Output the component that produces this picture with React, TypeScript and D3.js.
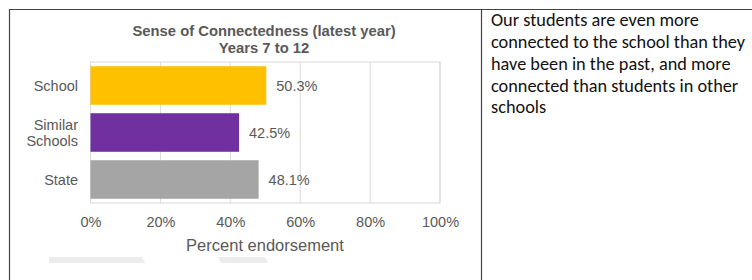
import React, { useEffect, useRef } from "react";
import { axisBottom, scaleBand, scaleLinear, select } from "d3";

const categories = ["School", "Similar Schools", "State"];
const values = [50.3, 42.5, 48.1];
const barColors = ["#FFC000", "#7030A0", "#A5A5A5"];
const tickValues = [0, 20, 40, 60, 80, 100];
const titleLines = ["Sense of Connectedness (latest year)", "Years 7 to 12"];
const commentLines = [
  "Our students are even more",
  "connected to the school than they",
  "have been in the past, and more",
  "connected than students in other",
  "schools",
];

export default function App() {
  const ref = useRef<SVGSVGElement>(null);

  useEffect(() => {
    const svg = select(ref.current);
    svg.selectAll("*").remove();

    const font = "'Liberation Sans', Arial, sans-serif";
    const textColor = "#595959";
    const plot = { left: 90.5, right: 440, top: 62, bottom: 203 };

    // table frame
    svg.append("line").attr("x1", 9).attr("x2", 752).attr("y1", 9.5).attr("y2", 9.5)
      .attr("stroke", "#444").attr("stroke-width", 1.2);
    svg.append("line").attr("x1", 9.5).attr("x2", 9.5).attr("y1", 9).attr("y2", 280)
      .attr("stroke", "#444").attr("stroke-width", 1.2);
    svg.append("line").attr("x1", 481.5).attr("x2", 481.5).attr("y1", 9).attr("y2", 280)
      .attr("stroke", "#444").attr("stroke-width", 1.2);

    const x = scaleLinear().domain([0, 100]).range([plot.left, plot.right]);
    const y = scaleBand<string>()
      .domain(categories)
      .range([plot.top, plot.bottom])
      .paddingInner(0.18)
      .paddingOuter(0.09);

    // gridlines
    svg.append("g")
      .selectAll("line")
      .data(tickValues.slice(1))
      .join("line")
      .attr("x1", (d) => x(d))
      .attr("x2", (d) => x(d))
      .attr("y1", plot.top)
      .attr("y2", plot.bottom)
      .attr("stroke", "#d9d9d9");

    svg.append("rect")
      .attr("x", plot.left).attr("y", plot.top)
      .attr("width", plot.right - plot.left).attr("height", plot.bottom - plot.top)
      .attr("fill", "none").attr("stroke", "#d9d9d9");

    // bars
    svg.append("g")
      .selectAll("rect")
      .data(values)
      .join("rect")
      .attr("x", x(0))
      .attr("y", (d, i) => y(categories[i])!)
      .attr("width", (d) => x(d) - x(0))
      .attr("height", y.bandwidth())
      .attr("fill", (d, i) => barColors[i]);

    // value labels
    svg.append("g")
      .selectAll("text")
      .data(values)
      .join("text")
      .attr("x", (d) => x(d) + 10)
      .attr("y", (d, i) => y(categories[i])! + y.bandwidth() / 2)
      .attr("dy", "0.35em")
      .attr("font-family", font)
      .attr("font-size", 14.5)
      .attr("fill", textColor)
      .text((d) => `${d.toFixed(1)}%`);

    // category labels
    const cats = svg.append("g");
    categories.forEach((c) => {
      const words = c.split(" ");
      const cy = y(c)! + y.bandwidth() / 2;
      const t = cats.append("text")
        .attr("x", 78)
        .attr("text-anchor", "end")
        .attr("font-family", font)
        .attr("font-size", 14.5)
        .attr("fill", textColor);
      words.forEach((w, i) => {
        t.append("tspan")
          .attr("x", 78)
          .attr("y", cy + (i - (words.length - 1) / 2) * 16)
          .attr("dy", "0.35em")
          .text(w);
      });
    });

    // x axis
    const ax = svg.append("g")
      .attr("transform", `translate(0, ${plot.bottom})`)
      .call(axisBottom(x).tickValues(tickValues).tickSize(0).tickPadding(14).tickFormat((d) => `${d}%`));
    ax.select(".domain").remove();
    ax.selectAll("text")
      .attr("font-family", font)
      .attr("font-size", 14.5)
      .attr("fill", textColor);

    svg.append("text")
      .attr("x", 265)
      .attr("y", 245)
      .attr("dy", "0.35em")
      .attr("text-anchor", "middle")
      .attr("font-family", font)
      .attr("font-size", 16.5)
      .attr("fill", textColor)
      .text("Percent endorsement");

    // title
    svg.append("g")
      .selectAll("text")
      .data(titleLines)
      .join("text")
      .attr("x", 264)
      .attr("y", (d, i) => 30.5 + i * 17)
      .attr("dy", "0.35em")
      .attr("text-anchor", "middle")
      .attr("font-family", font)
      .attr("font-size", 14.8)
      .attr("font-weight", "bold")
      .attr("fill", textColor)
      .text((d) => d);

    // faint cropped shapes under the chart
    svg.append("path").attr("d", "M49,257 L142,257 L145,263 L49,263 Z").attr("fill", "#ececec");
    svg.append("path").attr("d", "M218,257 L265,257 L268,263 L221,263 Z").attr("fill", "#ececec");

    // comment
    svg.append("g")
      .selectAll("text")
      .data(commentLines)
      .join("text")
      .attr("x", 491)
      .attr("y", (d, i) => 20 + i * 21.7)
      .attr("dy", "0.35em")
      .attr("font-family", "Carlito, 'Open Sans', sans-serif")
      .attr("font-size", 18.3)
      .attr("fill", "#111")
      .text((d) => d);
  }, []);

  return (
    <svg
      ref={ref}
      width={752}
      height={280}
      style={{ position: "absolute", left: 0, top: 0, background: "#fff" }}
    />
  );
}
